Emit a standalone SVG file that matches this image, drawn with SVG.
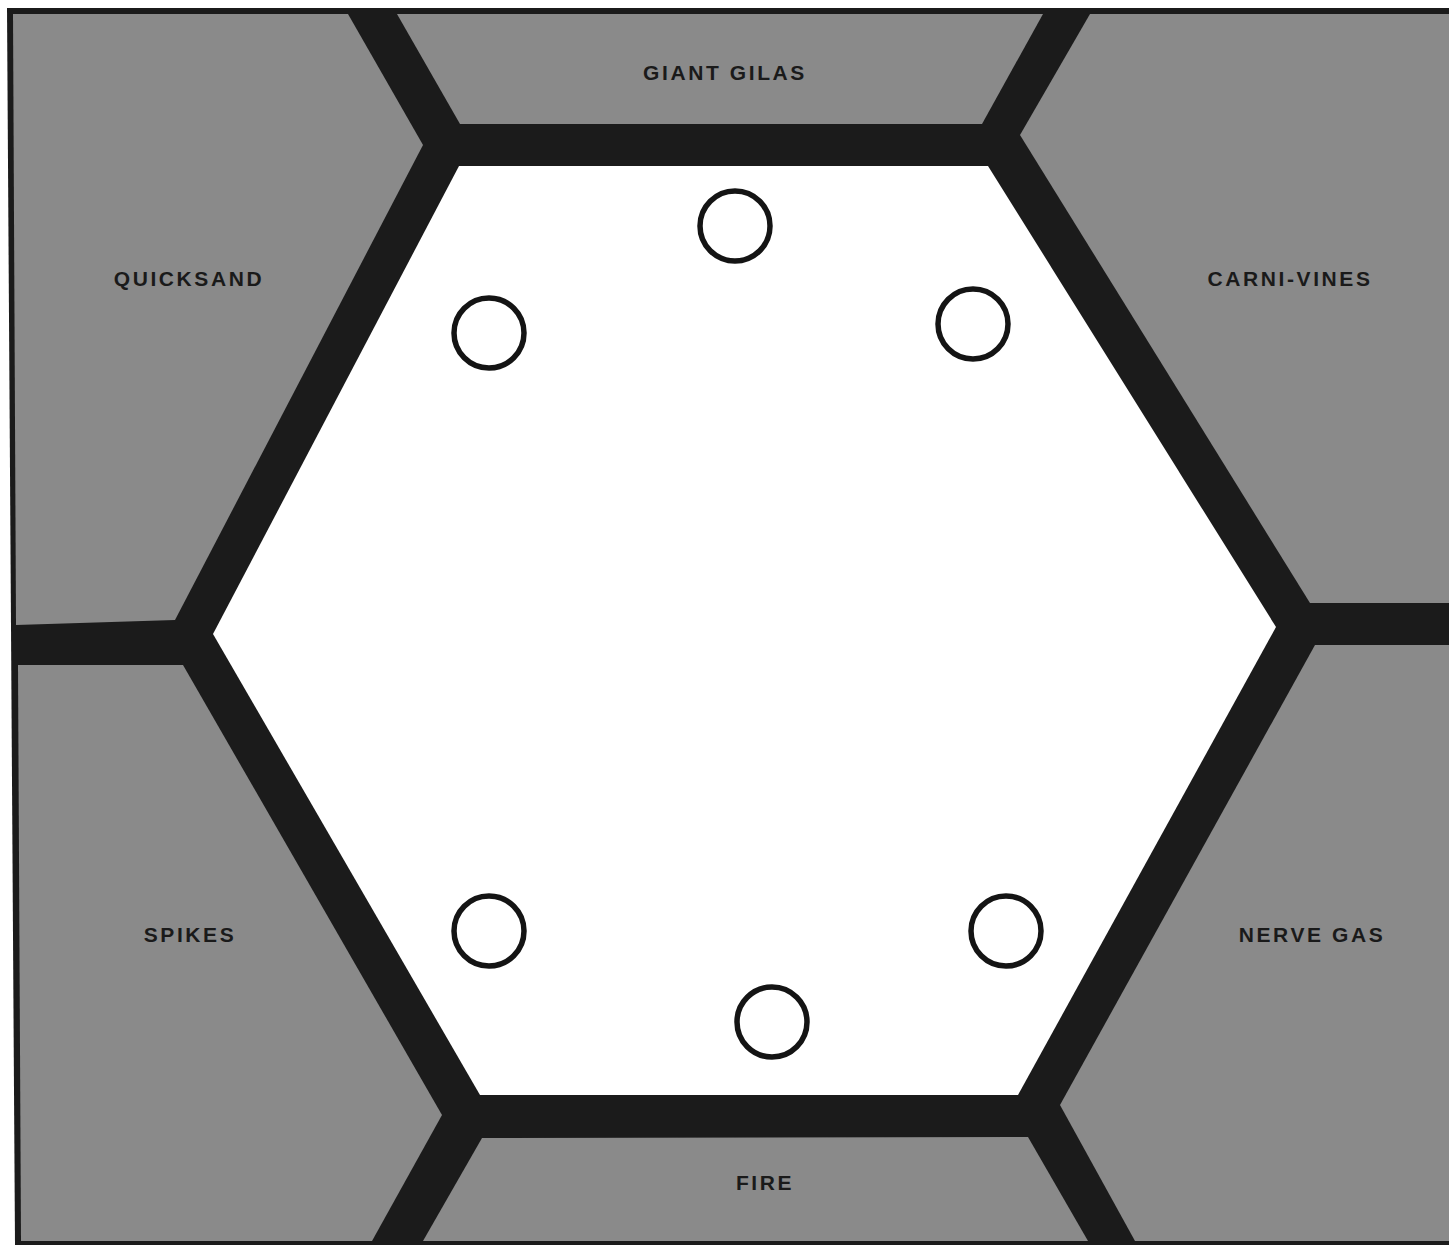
<svg xmlns="http://www.w3.org/2000/svg" width="1449" height="1245" viewBox="0 0 1449 1245">
  <style>
    .zone { fill: #8a8a8a; }
    .lbl { font-family: "Liberation Sans", Arial, sans-serif; font-weight: bold; font-size: 21px; letter-spacing: 2.6px; fill: #1a1a1a; text-anchor: middle; }
    .hole { fill: #ffffff; stroke: #141414; stroke-width: 5.5; }
  </style>
  <rect x="0" y="0" width="1449" height="1245" fill="#ffffff"/>
  <g id="frame">
    <polygon points="7,8 1449,8 1449,1245 15,1245" fill="#1b1b1b"/>
  </g>
  <g id="quicksand">
    <polygon class="zone" points="13,14 348,14 423,145 175,620 16,625"/>
    <text class="lbl" x="189" y="286">QUICKSAND</text>
  </g>
  <g id="giant-gilas">
    <polygon class="zone" points="397,14 1043,14 982,124 460,124"/>
    <text class="lbl" x="725" y="80">GIANT GILAS</text>
  </g>
  <g id="carni-vines">
    <polygon class="zone" points="1090,14 1449,14 1449,603 1310,603 1020,135"/>
    <text class="lbl" x="1290" y="286">CARNI-VINES</text>
  </g>
  <g id="nerve-gas">
    <polygon class="zone" points="1315,645 1449,645 1449,1241 1135,1241 1060,1105"/>
    <text class="lbl" x="1312" y="942">NERVE GAS</text>
  </g>
  <g id="fire">
    <polygon class="zone" points="482,1138 1028,1137 1088,1241 423,1241"/>
    <text class="lbl" x="765" y="1190">FIRE</text>
  </g>
  <g id="spikes">
    <polygon class="zone" points="18,665 183,665 442,1115 372,1241 21,1241"/>
    <text class="lbl" x="190" y="942">SPIKES</text>
  </g>
  <g id="arena">
    <polygon points="459,166 988,166 1276,627 1018,1095 480,1095 213,634" fill="#ffffff"/>
    <g id="holes">
      <circle class="hole" cx="735" cy="226" r="35"/>
      <circle class="hole" cx="489" cy="333" r="35"/>
      <circle class="hole" cx="973" cy="324" r="35"/>
      <circle class="hole" cx="489" cy="931" r="35"/>
      <circle class="hole" cx="1006" cy="931" r="35"/>
      <circle class="hole" cx="772" cy="1022" r="35"/>
    </g>
  </g>
</svg>
